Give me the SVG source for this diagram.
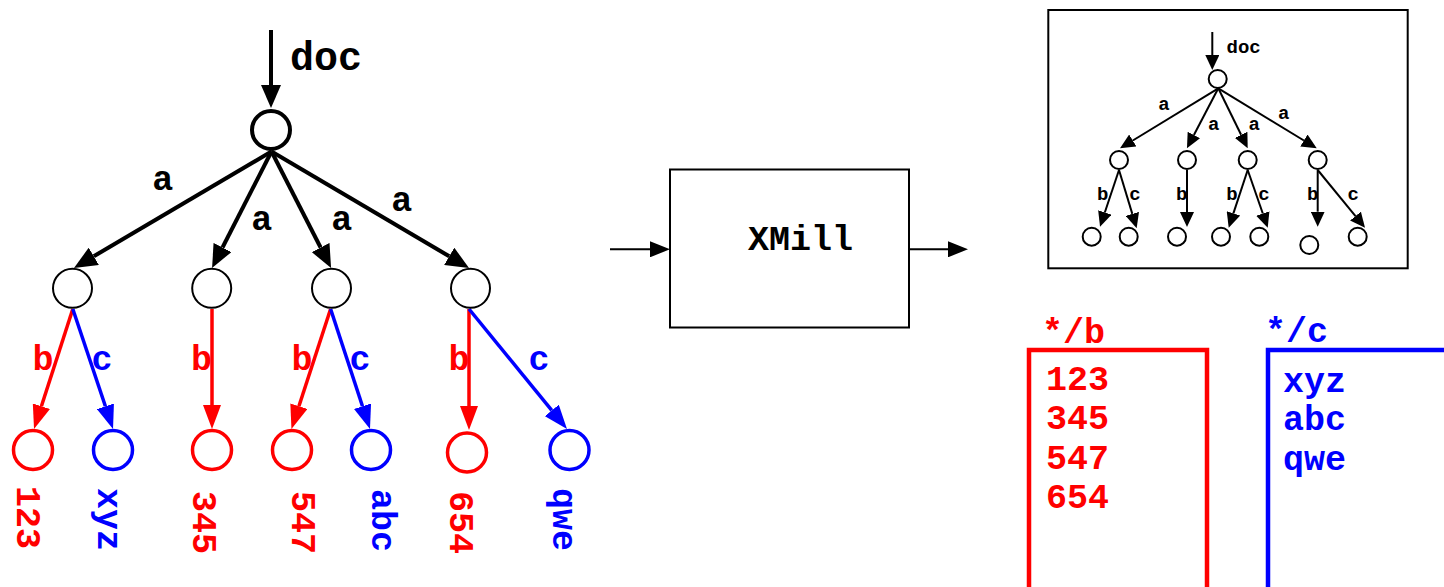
<svg xmlns="http://www.w3.org/2000/svg" width="1444" height="587" viewBox="0 0 1444 587">
<style>
text{font-family:"Liberation Mono","Courier New",monospace;font-weight:bold}
.big{font-size:40px}
.lbl{font-size:35px}
.val{font-size:35px}
.sm{font-size:19px}
.red{fill:#ff0000}
.blue{fill:#0000ff}
.blk{fill:#000}
.e{fill:none;stroke:#000;stroke-width:4}
.er{fill:none;stroke:#ff0000;stroke-width:3.5}
.eb{fill:none;stroke:#0000ff;stroke-width:3.5}
.es{fill:none;stroke:#000;stroke-width:2}
.n0{fill:#fff;stroke:#000;stroke-width:4}
.n1{fill:#fff;stroke:#000;stroke-width:2}
.nr{fill:#fff;stroke:#ff0000;stroke-width:3.5}
.nb{fill:#fff;stroke:#0000ff;stroke-width:3.5}
.ns{fill:#fff;stroke:#000;stroke-width:2}
</style>
<defs>
<marker id="ab" viewBox="0 -10 23 20" markerWidth="23" markerHeight="20" refX="0" refY="0" orient="auto" markerUnits="userSpaceOnUse"><path d="M0,-10L23,0L0,10z" fill="#000"/></marker>
<marker id="ar" viewBox="0 -9 24 18" markerWidth="24" markerHeight="18" refX="0" refY="0" orient="auto" markerUnits="userSpaceOnUse"><path d="M0,-9L24,0L0,9z" fill="#ff0000"/></marker>
<marker id="abl" viewBox="0 -9 24 18" markerWidth="24" markerHeight="18" refX="0" refY="0" orient="auto" markerUnits="userSpaceOnUse"><path d="M0,-9L24,0L0,9z" fill="#0000ff"/></marker>
<marker id="am" viewBox="0 -8 20 16" markerWidth="20" markerHeight="16" refX="0" refY="0" orient="auto" markerUnits="userSpaceOnUse"><path d="M0,-8L20,0L0,8z" fill="#000"/></marker>
<marker id="as" viewBox="0 -7 15 14" markerWidth="15" markerHeight="14" refX="0" refY="0" orient="auto" markerUnits="userSpaceOnUse"><path d="M0,-7L15,0L0,7z" fill="#000"/></marker>
</defs>
<g id="connectors">
<path class="e" d="M271,30L271,85" marker-end="url(#ab)"/>
<path class="e" d="M271.5,151.5L93.8,256.3" marker-end="url(#ab)"/>
<path class="e" d="M271.5,151.5L222.5,247.5" marker-end="url(#ab)"/>
<path class="e" d="M271.5,151.5L320.6,247.5" marker-end="url(#ab)"/>
<path class="e" d="M271.5,151.5L449.2,256.3" marker-end="url(#ab)"/>
<path class="er" d="M72.8,309L41.4,406.2" marker-end="url(#ar)"/>
<path class="eb" d="M72.8,309L105.4,406.3" marker-end="url(#abl)"/>
<path class="er" d="M212,309L212,405" marker-end="url(#ar)"/>
<path class="er" d="M330.6,309L298.9,406.2" marker-end="url(#ar)"/>
<path class="eb" d="M330.6,309L362.5,406.2" marker-end="url(#abl)"/>
<path class="er" d="M469,309L469,406" marker-end="url(#ar)"/>
<path class="eb" d="M469,309L551.8,410.4" marker-end="url(#abl)"/>
<path class="es" d="M610,249.3L650,249.3" marker-end="url(#am)"/>
<path class="es" d="M909,249.3L948,249.3" marker-end="url(#am)"/>
<path class="es" d="M1212.3,32L1212.3,55" marker-end="url(#as)"/>
<path class="es" d="M1218.3,88.3L1132.8,140.5" marker-end="url(#as)"/>
<path class="es" d="M1218.3,88.3L1193.9,135" marker-end="url(#as)"/>
<path class="es" d="M1218.3,88.3L1241.1,134.8" marker-end="url(#as)"/>
<path class="es" d="M1218.3,88.3L1303.9,140.5" marker-end="url(#as)"/>
<path class="es" d="M1119,170L1104.8,212.5" marker-end="url(#as)"/>
<path class="es" d="M1119,170L1132.3,213.9" marker-end="url(#as)"/>
<path class="es" d="M1187,170L1187,212" marker-end="url(#as)"/>
<path class="es" d="M1247.7,170L1233.4,213.4" marker-end="url(#as)"/>
<path class="es" d="M1247.7,170L1262.8,213.5" marker-end="url(#as)"/>
<path class="es" d="M1317.7,170L1317.7,211.7" marker-end="url(#as)"/>
<path class="es" d="M1317.7,170L1355.5,216.1" marker-end="url(#as)"/>
</g>
<g id="labels">
<text class="big blk" x="290" y="70">doc</text>
<text class="lbl blk" x="162.7" y="190" text-anchor="middle">a</text>
<text class="lbl blk" x="261.7" y="230" text-anchor="middle">a</text>
<text class="lbl blk" x="341.7" y="230" text-anchor="middle">a</text>
<text class="lbl blk" x="401.7" y="210.5" text-anchor="middle">a</text>
<text class="lbl red" x="43" y="370" text-anchor="middle">b</text>
<text class="lbl blue" x="102" y="370" text-anchor="middle">c</text>
<text class="lbl red" x="201.5" y="370" text-anchor="middle">b</text>
<text class="lbl red" x="302" y="370" text-anchor="middle">b</text>
<text class="lbl blue" x="360" y="370" text-anchor="middle">c</text>
<text class="lbl red" x="459" y="370" text-anchor="middle">b</text>
<text class="lbl blue" x="539" y="370" text-anchor="middle">c</text>
<text class="sm blk" x="1226.5" y="53">doc</text>
<text class="sm blk" x="1164" y="110" text-anchor="middle">a</text>
<text class="sm blk" x="1213.7" y="130" text-anchor="middle">a</text>
<text class="sm blk" x="1254.3" y="130" text-anchor="middle">a</text>
<text class="sm blk" x="1283.7" y="119" text-anchor="middle">a</text>
<text class="sm blk" x="1102.7" y="200" text-anchor="middle">b</text>
<text class="sm blk" x="1135" y="200" text-anchor="middle">c</text>
<text class="sm blk" x="1181.7" y="200" text-anchor="middle">b</text>
<text class="sm blk" x="1232" y="200" text-anchor="middle">b</text>
<text class="sm blk" x="1264" y="200" text-anchor="middle">c</text>
<text class="sm blk" x="1312.7" y="200" text-anchor="middle">b</text>
<text class="sm blk" x="1353.3" y="200" text-anchor="middle">c</text>
</g>
<g id="root"><circle class="n0" cx="271" cy="130" r="19"/></g>
<g id="a1"><circle class="n1" cx="72.5" cy="288.3" r="19.5"/></g>
<g id="a2"><circle class="n1" cx="211.7" cy="288.3" r="19.5"/></g>
<g id="a3"><circle class="n1" cx="331.5" cy="288.3" r="19.5"/></g>
<g id="a4"><circle class="n1" cx="470.5" cy="288.3" r="19.5"/></g>
<g id="v123"><circle class="nr" cx="33" cy="450" r="19.5"/><text class="val red" transform="translate(17,486) rotate(90)">123</text></g>
<g id="vxyz"><circle class="nb" cx="113" cy="450" r="19.5"/><text class="val blue" transform="translate(98,488) rotate(90)">xyz</text></g>
<g id="v345"><circle class="nr" cx="212" cy="450" r="19.5"/><text class="val red" transform="translate(193,491) rotate(90)">345</text></g>
<g id="v547"><circle class="nr" cx="292" cy="450" r="19.5"/><text class="val red" transform="translate(292,491) rotate(90)">547</text></g>
<g id="vabc"><circle class="nb" cx="371" cy="450" r="19.5"/><text class="val blue" transform="translate(372,489) rotate(90)">abc</text></g>
<g id="v654"><circle class="nr" cx="467" cy="452.5" r="19.5"/><text class="val red" transform="translate(450,491) rotate(90)">654</text></g>
<g id="vqwe"><circle class="nb" cx="569.5" cy="450" r="19.5"/><text class="val blue" transform="translate(553,488) rotate(90)">qwe</text></g>
<g id="xmill"><rect x="670" y="169.5" width="239" height="158" fill="#fff" stroke="#000" stroke-width="2"/><text class="lbl blk" x="748" y="250">XMill</text></g>
<g id="thumbnail">
<rect x="1048.3" y="10" width="359.4" height="258.3" fill="none" stroke="#000" stroke-width="2"/>
<circle class="ns" cx="1217.7" cy="79" r="9"/>
<circle class="ns" cx="1119" cy="160" r="9"/>
<circle class="ns" cx="1187" cy="160" r="9"/>
<circle class="ns" cx="1247.7" cy="160" r="9"/>
<circle class="ns" cx="1317.7" cy="160" r="9"/>
<circle class="ns" cx="1091.7" cy="236.7" r="9"/>
<circle class="ns" cx="1128.7" cy="236.7" r="9"/>
<circle class="ns" cx="1177" cy="236.7" r="9"/>
<circle class="ns" cx="1221" cy="236.7" r="9"/>
<circle class="ns" cx="1259.3" cy="236.7" r="9"/>
<circle class="ns" cx="1309.3" cy="245" r="9"/>
<circle class="ns" cx="1357.7" cy="236.7" r="9"/>
</g>
<g id="containerB">
<rect x="1029" y="350" width="178" height="260" fill="none" stroke="#ff0000" stroke-width="4.5"/>
<text class="lbl red" x="1042" y="343">*/b</text>
<text class="val red" x="1046" y="390">123</text>
<text class="val red" x="1046" y="429">345</text>
<text class="val red" x="1046" y="468.5">547</text>
<text class="val red" x="1046" y="508">654</text>
</g>
<g id="containerC">
<rect x="1268" y="350" width="200" height="260" fill="none" stroke="#0000ff" stroke-width="4.5"/>
<text class="lbl blue" x="1265" y="342">*/c</text>
<text class="val blue" x="1283" y="391.5">xyz</text>
<text class="val blue" x="1283" y="430">abc</text>
<text class="val blue" x="1283" y="469.5">qwe</text>
</g>
</svg>
